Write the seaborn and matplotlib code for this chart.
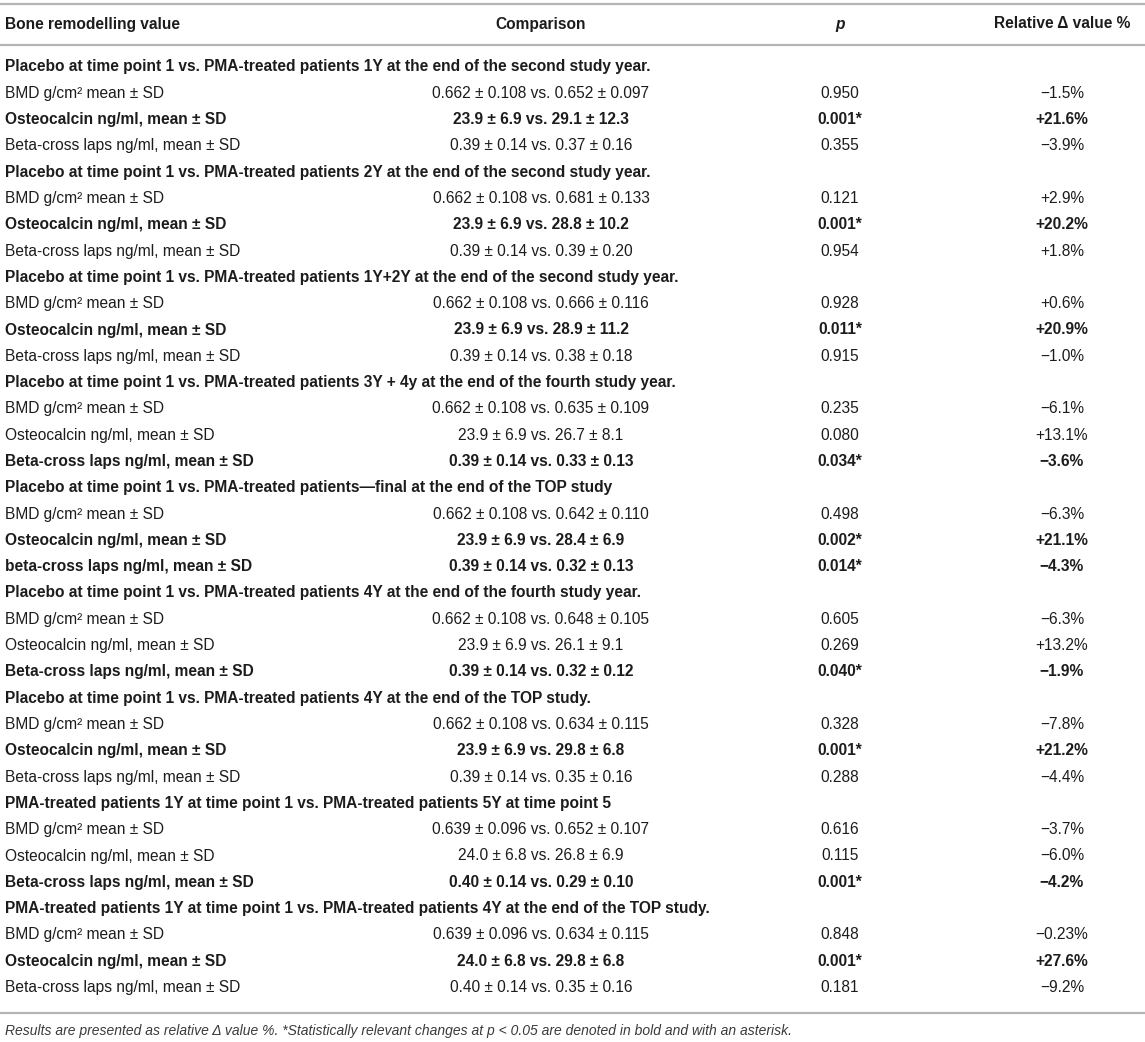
import numpy as np
import pandas as pd
import matplotlib
matplotlib.use("Agg")
import matplotlib.pyplot as plt
import seaborn as sns

# column headers
headers = ["Bone remodelling value", "Comparison", "p", "Relative \u0394 value %"]

# comparison groups (section rows)
groups = [
    "Placebo at time point 1 vs. PMA-treated patients 1Y at the end of the second study year.",
    "Placebo at time point 1 vs. PMA-treated patients 2Y at the end of the second study year.",
    "Placebo at time point 1 vs. PMA-treated patients 1Y+2Y at the end of the second study year.",
    "Placebo at time point 1 vs. PMA-treated patients 3Y + 4y at the end of the fourth study year.",
    "Placebo at time point 1 vs. PMA-treated patients\u2014final at the end of the TOP study",
    "Placebo at time point 1 vs. PMA-treated patients 4Y at the end of the fourth study year.",
    "Placebo at time point 1 vs. PMA-treated patients 4Y at the end of the TOP study.",
    "PMA-treated patients 1Y at time point 1 vs. PMA-treated patients 5Y at time point 5",
    "PMA-treated patients 1Y at time point 1 vs. PMA-treated patients 4Y at the end of the TOP study.",
]

BMD = "BMD g/cm\u00b2 mean \u00b1 SD"
OST = "Osteocalcin ng/ml, mean \u00b1 SD"
BCL = "Beta-cross laps ng/ml, mean \u00b1 SD"

measures = [
    [BMD, OST, BCL],
    [BMD, OST, BCL],
    [BMD, OST, BCL],
    [BMD, OST, BCL],
    [BMD, OST, "beta-cross laps ng/ml, mean \u00b1 SD"],
    [BMD, OST, BCL],
    [BMD, OST, BCL],
    [BMD, OST, BCL],
    [BMD, OST, BCL],
]

comparisons = [
    ["0.662 \u00b1 0.108 vs. 0.652 \u00b1 0.097", "23.9 \u00b1 6.9 vs. 29.1 \u00b1 12.3", "0.39 \u00b1 0.14 vs. 0.37 \u00b1 0.16"],
    ["0.662 \u00b1 0.108 vs. 0.681 \u00b1 0.133", "23.9 \u00b1 6.9 vs. 28.8 \u00b1 10.2", "0.39 \u00b1 0.14 vs. 0.39 \u00b1 0.20"],
    ["0.662 \u00b1 0.108 vs. 0.666 \u00b1 0.116", "23.9 \u00b1 6.9 vs. 28.9 \u00b1 11.2", "0.39 \u00b1 0.14 vs. 0.38 \u00b1 0.18"],
    ["0.662 \u00b1 0.108 vs. 0.635 \u00b1 0.109", "23.9 \u00b1 6.9 vs. 26.7 \u00b1 8.1", "0.39 \u00b1 0.14 vs. 0.33 \u00b1 0.13"],
    ["0.662 \u00b1 0.108 vs. 0.642 \u00b1 0.110", "23.9 \u00b1 6.9 vs. 28.4 \u00b1 6.9", "0.39 \u00b1 0.14 vs. 0.32 \u00b1 0.13"],
    ["0.662 \u00b1 0.108 vs. 0.648 \u00b1 0.105", "23.9 \u00b1 6.9 vs. 26.1 \u00b1 9.1", "0.39 \u00b1 0.14 vs. 0.32 \u00b1 0.12"],
    ["0.662 \u00b1 0.108 vs. 0.634 \u00b1 0.115", "23.9 \u00b1 6.9 vs. 29.8 \u00b1 6.8", "0.39 \u00b1 0.14 vs. 0.35 \u00b1 0.16"],
    ["0.639 \u00b1 0.096 vs. 0.652 \u00b1 0.107", "24.0 \u00b1 6.8 vs. 26.8 \u00b1 6.9", "0.40 \u00b1 0.14 vs. 0.29 \u00b1 0.10"],
    ["0.639 \u00b1 0.096 vs. 0.634 \u00b1 0.115", "24.0 \u00b1 6.8 vs. 29.8 \u00b1 6.8", "0.40 \u00b1 0.14 vs. 0.35 \u00b1 0.16"],
]

p_values = [
    ["0.950", "0.001*", "0.355"],
    ["0.121", "0.001*", "0.954"],
    ["0.928", "0.011*", "0.915"],
    ["0.235", "0.080", "0.034*"],
    ["0.498", "0.002*", "0.014*"],
    ["0.605", "0.269", "0.040*"],
    ["0.328", "0.001*", "0.288"],
    ["0.616", "0.115", "0.001*"],
    ["0.848", "0.001*", "0.181"],
]

rel_delta = [
    ["\u22121.5%", "+21.6%", "\u22123.9%"],
    ["+2.9%", "+20.2%", "+1.8%"],
    ["+0.6%", "+20.9%", "\u22121.0%"],
    ["\u22126.1%", "+13.1%", "\u22123.6%"],
    ["\u22126.3%", "+21.1%", "\u22124.3%"],
    ["\u22126.3%", "+13.2%", "\u22121.9%"],
    ["\u22127.8%", "+21.2%", "\u22124.4%"],
    ["\u22123.7%", "\u22126.0%", "\u22124.2%"],
    ["\u22120.23%", "+27.6%", "\u22129.2%"],
]

footnote = ("Results are presented as relative \u0394 value %. *Statistically relevant "
            "changes at p < 0.05 are denoted in bold and with an asterisk.")

# build a long table of rows
rows = []
for g, name in enumerate(groups):
    rows.append(dict(kind="group", c0=name, c1="", c2="", c3="", bold=True))
    for i in range(3):
        sig = p_values[g][i].endswith("*")
        rows.append(dict(kind="row", c0=measures[g][i], c1=comparisons[g][i],
                         c2=p_values[g][i], c3=rel_delta[g][i], bold=sig))
table = pd.DataFrame(rows)

sns.set_theme(style="white")
plt.rcParams["font.family"] = ["Liberation Sans", "DejaVu Sans"]

W, H = 1145, 1042
fig = plt.figure(figsize=(W / 100, H / 100), dpi=100)
ax = fig.add_axes([0, 0, 1, 1])
ax.set_xlim(0, W)
ax.set_ylim(H, 0)
ax.axis("off")

txt = "#1c1c1c"
line = "#b5b5b5"
fs = 11.2

# column anchors
x0, x1, x2, x3 = 5, 541, 840, 1062

# rules
for y in (4, 45, 1013):
    ax.plot([0, W], [y, y], color=line, lw=1.6, solid_capstyle="butt")

# header
ax.text(x0, 24, headers[0], ha="left", va="center", fontsize=fs, fontweight="bold", color=txt)
ax.text(x1, 24, headers[1], ha="center", va="center", fontsize=fs, fontweight="bold", color=txt)
ax.text(x2, 24, headers[2], ha="center", va="center", fontsize=fs, fontweight="bold",
        style="italic", color=txt)
ax.text(x3, 24, headers[3], ha="center", va="center", fontsize=fs, fontweight="bold", color=txt)

# body
y_first, dy = 67, 26.3
for k, r in table.iterrows():
    y = y_first + k * dy
    w = "bold" if r["bold"] else "normal"
    ax.text(x0, y, r["c0"], ha="left", va="center", fontsize=fs, fontweight=w, color=txt)
    if r["kind"] == "row":
        ax.text(x1, y, r["c1"], ha="center", va="center", fontsize=fs, fontweight=w, color=txt)
        ax.text(x2, y, r["c2"], ha="center", va="center", fontsize=fs, fontweight=w, color=txt)
        ax.text(x3, y, r["c3"], ha="center", va="center", fontsize=fs, fontweight=w, color=txt)

ax.text(x0, 1031, footnote, ha="left", va="center", fontsize=10, style="italic", color="#3a3a3a")

fig.savefig("out.png", dpi=100)
